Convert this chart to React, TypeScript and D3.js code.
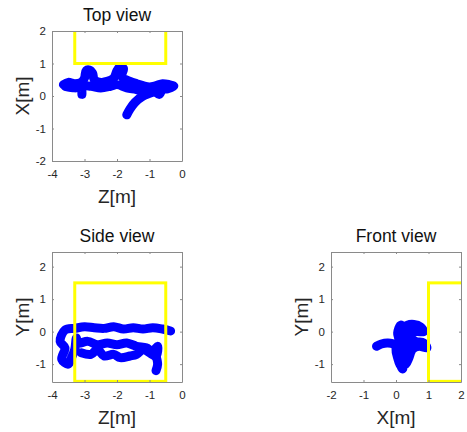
import * as d3 from "d3";
import React, { useEffect, useRef } from "react";

// top view: (z, x)
const topTrail: [number, number][] = [
  [-3.65, 0.35], [-3.5, 0.42], [-3.3, 0.38], [-3.1, 0.42], [-3.0, 0.55], [-2.95, 0.78],
  [-2.85, 0.8], [-2.75, 0.7], [-2.7, 0.5], [-2.5, 0.42], [-2.3, 0.45], [-2.1, 0.55],
  [-2.0, 0.78], [-1.9, 0.9], [-1.8, 0.85], [-1.85, 0.6], [-1.6, 0.45], [-1.4, 0.38],
  [-1.2, 0.32], [-1.0, 0.28], [-0.8, 0.32], [-0.6, 0.38], [-0.4, 0.35], [-0.25, 0.3],
  [-0.45, 0.22], [-0.6, 0.2], [-0.7, 0.05], [-0.85, 0.15], [-1.1, 0.12], [-1.4, 0.2],
  [-1.7, 0.25], [-2.0, 0.35], [-2.2, 0.3], [-2.5, 0.25], [-2.8, 0.3], [-3.05, 0.3],
  [-3.08, 0.05], [-3.1, 0.28], [-3.3, 0.25], [-3.6, 0.3],
];
const topTail: [number, number][] = [
  [-0.9, 0.12], [-1.2, 0.0], [-1.45, -0.2], [-1.6, -0.4], [-1.7, -0.58],
];

// side view: (z, y)
const sideTrail: [number, number][] = [
  [-0.35, 0.02], [-0.6, 0.08], [-0.9, 0.12], [-1.2, 0.08], [-1.5, 0.12], [-1.8, 0.08],
  [-2.1, 0.15], [-2.4, 0.1], [-2.7, 0.12], [-3.0, 0.15], [-3.3, 0.1], [-3.6, 0.05],
  [-3.75, -0.3], [-3.6, -0.5], [-3.7, -0.85], [-3.5, -1.0], [-3.4, -0.8], [-3.3, -0.55],
  [-3.25, -0.2], [-3.2, -0.35], [-2.9, -0.3], [-2.6, -0.4], [-2.3, -0.35], [-2.0, -0.4],
  [-1.7, -0.35], [-1.4, -0.45], [-1.1, -0.5], [-0.9, -0.6], [-0.75, -0.45],
  [-0.8, -0.75], [-1.0, -0.65], [-1.2, -0.55], [-1.4, -0.7], [-1.6, -0.75], [-1.9, -0.8],
  [-2.1, -0.7], [-2.4, -0.75], [-2.6, -0.55], [-2.8, -0.7], [-3.1, -0.65],
];
const sideTail: [number, number][] = [
  [-0.8, -0.75], [-0.75, -1.0], [-0.8, -1.2],
];

// front view: (x, y)
const frontTrail: [number, number][] = [
  [-0.6, -0.45], [-0.45, -0.38], [-0.25, -0.35], [-0.05, -0.4], [0.05, -0.6], [0.1, -0.9],
  [0.2, -1.15], [0.25, -0.9], [0.35, -0.7], [0.3, -0.4], [0.15, -0.2], [0.2, 0.1],
  [0.35, 0.2], [0.55, 0.22], [0.75, 0.15], [0.85, 0.0], [0.6, 0.0], [0.4, -0.15],
  [0.6, -0.3], [0.85, -0.35], [0.95, -0.5], [0.7, -0.45], [0.5, -0.55], [0.4, -0.8],
  [0.3, -1.0], [0.15, -1.05], [0.05, -0.8], [0.0, -0.55], [0.1, -0.3], [0.05, -0.05],
  [0.15, 0.2], [0.3, 0.05], [0.45, 0.12], [0.65, 0.18], [0.5, 0.05], [0.3, -0.1],
  [0.2, -0.4], [0.25, -0.6], [0.15, -0.75], [0.3, -0.85], [0.45, -0.65], [0.55, -0.4],
  [0.75, -0.4], [0.9, -0.45],
];

const zTicks = [-4, -3, -2, -1, 0];
const xTicks = [-2, -1, 0, 1, 2];
const topYTicks = [-2, -1, 0, 1, 2];
const yTicks = [-1, 0, 1, 2];

// yellow region: [x0, x1, y0, y1] in each view's units
const topRegion = [-3.3, -0.5, 1, 3];
const sideRegion = [-3.3, -0.5, -1.53, 1.5];
const frontRegion = [1, 3, -1.53, 1.5];

const panels = [
  {
    title: "Top view", xLabel: "Z[m]", yLabel: "X[m]", left: 52, top: 31,
    xDomain: [-4, 0], yDomain: [-2, 2], xTicks: zTicks, yTicks: topYTicks,
    trails: [topTrail, topTail], region: topRegion,
  },
  {
    title: "Side view", xLabel: "Z[m]", yLabel: "Y[m]", left: 52, top: 252,
    xDomain: [-4, 0], yDomain: [-1.55, 2.45], xTicks: zTicks, yTicks: yTicks,
    trails: [sideTrail, sideTail], region: sideRegion,
  },
  {
    title: "Front view", xLabel: "X[m]", yLabel: "Y[m]", left: 331, top: 252,
    xDomain: [-2, 2], yDomain: [-1.55, 2.45], xTicks: xTicks, yTicks: yTicks,
    trails: [frontTrail], region: frontRegion,
  },
];

const size = 130;
const font = "'Liberation Sans', Arial, Helvetica, sans-serif";

export default function App() {
  const ref = useRef<SVGSVGElement>(null);

  useEffect(() => {
    const svg = d3.select(ref.current);
    svg.selectAll("*").remove();

    panels.forEach((p, i) => {
      const x = d3.scaleLinear(p.xDomain, [0, size]);
      const y = d3.scaleLinear(p.yDomain, [size, 0]);
      const g = svg.append("g").attr("transform", `translate(${p.left},${p.top})`);

      g.append("clipPath")
        .attr("id", `clip${i}`)
        .append("rect")
        .attr("width", size)
        .attr("height", size);
      const plot = g.append("g").attr("clip-path", `url(#clip${i})`);

      // trajectory
      const line = d3.line<[number, number]>().x((d) => x(d[0])).y((d) => y(d[1])).curve(d3.curveCatmullRom);
      p.trails.forEach((t) => {
        plot.append("path")
          .attr("d", line(t))
          .attr("fill", "none")
          .attr("stroke", "#0000ff")
          .attr("stroke-width", 9)
          .attr("stroke-linecap", "round")
          .attr("stroke-linejoin", "round");
      });

      // yellow region
      const [r0, r1, r2, r3] = p.region;
      plot.append("rect")
        .attr("x", x(r0))
        .attr("y", y(r3))
        .attr("width", x(r1) - x(r0))
        .attr("height", y(r2) - y(r3))
        .attr("fill", "none")
        .attr("stroke", "#ffff00")
        .attr("stroke-width", 3);

      const style = (a: d3.Selection<SVGGElement, unknown, null, undefined>) => {
        a.select(".domain").attr("stroke", "#8a8a8a");
        a.selectAll(".tick line").attr("stroke", "#8a8a8a");
        a.selectAll("text").attr("fill", "#262626").style("font-size", "11.5px").style("font-family", font);
      };
      const fmt = (d: d3.NumberValue) => String(d);

      g.append("g")
        .attr("transform", `translate(0,${size})`)
        .call(d3.axisBottom(x).tickValues(p.xTicks).tickFormat(fmt).tickSizeInner(-2).tickSizeOuter(0).tickPadding(8.5))
        .call(style);
      g.append("g")
        .call(d3.axisLeft(y).tickValues(p.yTicks).tickFormat(fmt).tickSizeInner(-2).tickSizeOuter(0).tickPadding(6))
        .call(style);
      g.append("g")
        .call(d3.axisTop(x).tickValues(p.xTicks).tickSizeInner(-2).tickSizeOuter(0).tickFormat(() => ""))
        .call(style);
      g.append("g")
        .attr("transform", `translate(${size},0)`)
        .call(d3.axisRight(y).tickValues(p.yTicks).tickSizeInner(-2).tickSizeOuter(0).tickFormat(() => ""))
        .call(style);

      g.append("text")
        .attr("x", size / 2)
        .attr("y", -10)
        .attr("text-anchor", "middle")
        .style("font-family", font)
        .style("font-size", "17.5px")
        .attr("fill", "#111")
        .text(p.title);

      g.append("text")
        .attr("x", size / 2)
        .attr("y", size + 42)
        .attr("text-anchor", "middle")
        .style("font-family", font)
        .style("font-size", "19px")
        .attr("fill", "#262626")
        .text(p.xLabel);

      g.append("text")
        .attr("transform", `translate(-23,${size / 2}) rotate(-90)`)
        .attr("text-anchor", "middle")
        .style("font-family", font)
        .style("font-size", "19px")
        .attr("fill", "#262626")
        .text(p.yLabel);
    });
  }, []);

  return (
    <svg
      ref={ref}
      width={467}
      height={432}
      style={{ position: "absolute", left: 0, top: 0, background: "#fff" }}
    ></svg>
  );
}
